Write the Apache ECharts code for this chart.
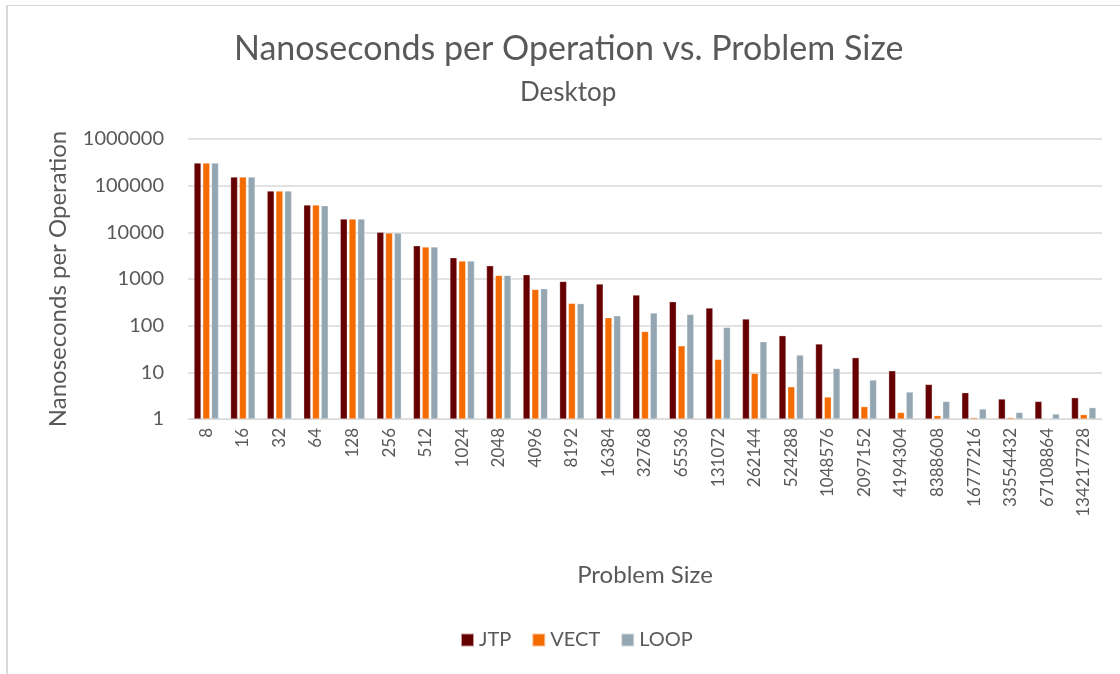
<!DOCTYPE html>
<html>
<head>
<meta charset="utf-8">
<script src="https://cdn.jsdelivr.net/npm/echarts@6/dist/echarts.min.js"></script>
<style>
  html, body { margin: 0; padding: 0; background: #fff; overflow: hidden; }
  #frame { position: absolute; left: 6px; top: 5px; width: 1200px; height: 700px; border-left: 2px solid #d9d9d9; border-top: 1px solid #d9d9d9; }
  #chart { position: absolute; left: 0; top: 0; width: 1120px; height: 674px; }
</style>
</head>
<body>
<div id="frame"></div>
<div id="chart"></div>
<script>
// problem sizes on the x axis
const sizes = ['8', '16', '32', '64', '128', '256', '512', '1024', '2048', '4096', '8192',
  '16384', '32768', '65536', '131072', '262144', '524288', '1048576', '2097152',
  '4194304', '8388608', '16777216', '33554432', '67108864', '134217728']

const jtp = [305000, 153000, 76800, 38500, 19300, 10000, 5170, 2860, 1930, 1236, 889,
  780, 454, 326, 239, 139, 61, 40.5, 20.6, 10.8, 5.5, 3.66, 2.68, 2.38, 2.86]
const vect = [305000, 153000, 76800, 38500, 19300, 9670, 4850, 2430, 1195, 598, 300,
  148, 75, 37, 18.9, 9.5, 4.9, 2.96, 1.84, 1.38, 1.18, 1.07, 1.07, 1.0, 1.24]
const loop = [305000, 153000, 76800, 37200, 19300, 9670, 4850, 2430, 1195, 620, 296,
  163, 187, 174, 91.8, 45.3, 23.5, 12.1, 6.85, 3.79, 2.38, 1.64, 1.38, 1.28, 1.75]

const textColor = '#595959'
const font = 'Lato, "Open Sans", sans-serif'

const chart = echarts.init(document.getElementById('chart'))

function barSeries(name, data, color) {
  return {
    name: name,
    type: 'bar',
    data: data,
    barWidth: 7,
    barGap: '25%',
    itemStyle: { color: color, borderColor: 'rgba(255,255,255,0.6)', borderWidth: 0.5 }
  }
}

chart.setOption({
  animation: false,
  textStyle: { fontFamily: font },
  title: [
    {
      text: 'Nanoseconds per Operation vs. Problem Size',
      left: 229, top: 27,
      textStyle: { color: textColor, fontSize: 34, fontWeight: 'normal', fontFamily: font }
    },
    {
      text: 'Desktop',
      left: 515, top: 75,
      textStyle: { color: textColor, fontSize: 26, fontWeight: 'normal', fontFamily: font }
    }
  ],
  legend: {
    bottom: 19,
    left: 455,
    itemWidth: 13,
    itemHeight: 13,
    itemGap: 20,
    icon: 'rect',
    textStyle: { color: textColor, fontSize: 20, fontFamily: font },
    data: ['JTP', 'VECT', 'LOOP']
  },
  grid: { left: 188, right: 18, top: 139, bottom: 255, containLabel: false },
  xAxis: {
    type: 'category',
    data: sizes,
    name: 'Problem Size',
    nameLocation: 'middle',
    nameGap: 144,
    nameTextStyle: { color: textColor, fontSize: 24, fontFamily: font },
    axisLine: { lineStyle: { color: '#d9d9d9', width: 1 } },
    axisTick: { show: false },
    axisLabel: { rotate: 90, color: textColor, fontSize: 17, margin: 9, fontFamily: font }
  },
  yAxis: {
    type: 'log',
    logBase: 10,
    min: 1,
    max: 1000000,
    interval: 1,
    name: 'Nanoseconds per Operation',
    nameLocation: 'middle',
    nameGap: 118,
    nameTextStyle: { color: textColor, fontSize: 24, fontFamily: font },
    axisLine: { show: false },
    axisTick: { show: false },
    splitLine: { lineStyle: { color: '#d9d9d9', width: 1.5 } },
    axisLabel: {
      color: textColor, fontSize: 20, margin: 24, fontFamily: font,
      formatter: function (v) { return String(Math.round(v)) }
    }
  },
  series: [
    barSeries('JTP', jtp, '#660000'),
    barSeries('VECT', vect, '#F46B00'),
    barSeries('LOOP', loop, '#94A6B2')
  ]
})
</script>
</body>
</html>
